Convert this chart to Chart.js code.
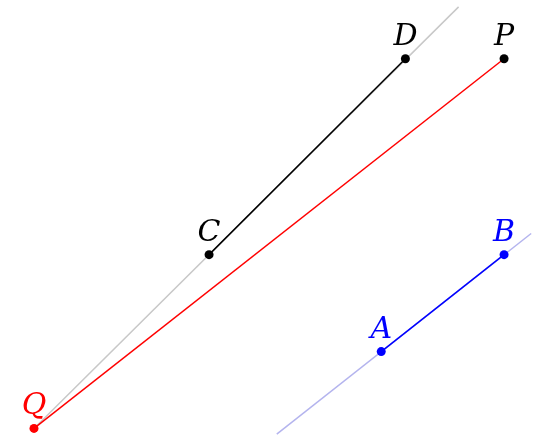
<!DOCTYPE html>
<html>
<head>
<meta charset="utf-8">
<script src="https://cdn.jsdelivr.net/npm/chart.js@4"></script>
<style>
  html, body { margin: 0; padding: 0; background: #fff; }
  #wrap { width: 540px; height: 443px; }
</style>
</head>
<body>
<div id="wrap"><canvas id="c"></canvas></div>
<script>
// points in figure units (x right, y down)
const names = ["Q", "C", "D", "P", "A", "B"];
const xs = [26, 207, 410, 512, 385, 512];
const ys = [437, 256, 52, 52, 357, 256];
const colors = ["#ff0000", "#000000", "#000000", "#000000", "#0000ff", "#0000ff"];
// extended guide lines
const grayLine = [{ x: 26, y: 437 }, { x: 465, y: -2 }];
const blueLine = [{ x: 277, y: 443 }, { x: 540, y: 234 }];

const pt = i => ({ x: xs[i], y: ys[i] });

const labelPlugin = {
  id: "labels",
  afterDatasetsDraw(chart) {
    const ctx = chart.ctx;
    const sx = chart.scales.x, sy = chart.scales.y;
    ctx.save();
    ctx.font = "italic 30px 'DejaVu Serif'";
    ctx.textAlign = "center";
    ctx.textBaseline = "alphabetic";
    names.forEach((n, i) => {
      ctx.fillStyle = colors[i];
      ctx.fillText(n, sx.getPixelForValue(xs[i]), sy.getPixelForValue(ys[i]) - 14);
    });
    ctx.restore();
  }
};

const seg = (data, color, w) => ({
  data, showLine: true, borderColor: color, borderWidth: w, pointRadius: 0, fill: false
});

// first dataset is drawn on top
new Chart(document.getElementById("c"), {
  type: "scatter",
  data: {
    datasets: [
      {
        data: names.map((n, i) => pt(i)),
        pointRadius: 4.5,
        pointBackgroundColor: colors,
        pointBorderWidth: 0,
        showLine: false
      },
      seg([pt(0), pt(3)], "#ff0000", 1.5),
      seg([pt(1), pt(2)], "#000000", 1.5),
      seg([pt(4), pt(5)], "#0000ff", 1.5),
      seg(blueLine, "#b4b4ee", 1.5),
      seg(grayLine, "#c8c8c8", 1.5)
    ]
  },
  options: {
    responsive: true,
    maintainAspectRatio: false,
    animation: false,
    layout: { padding: 0 },
    plugins: { legend: { display: false }, tooltip: { enabled: false } },
    scales: {
      x: { type: "linear", min: -4.5, max: 544.5, display: false },
      y: { type: "linear", min: -4.5, max: 447.5, reverse: true, display: false }
    }
  },
  plugins: [labelPlugin]
});
</script>
</body>
</html>
